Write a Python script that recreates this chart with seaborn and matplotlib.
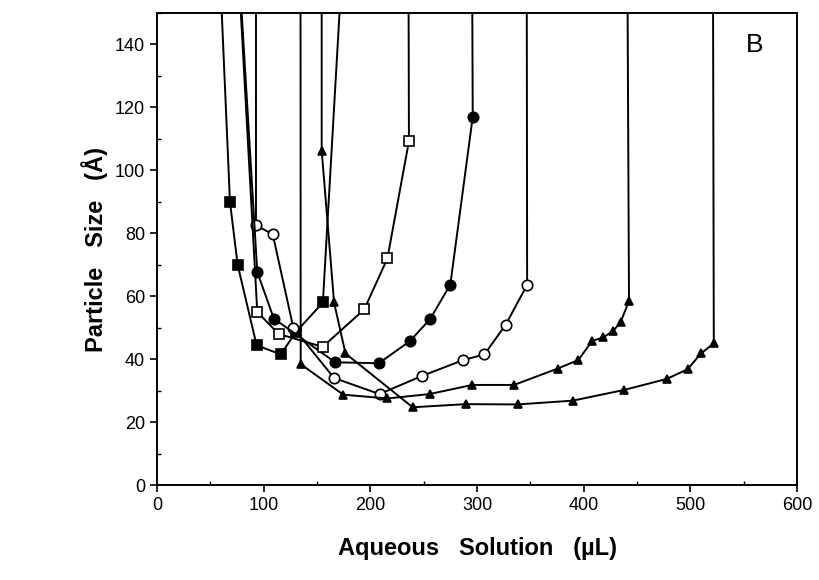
import matplotlib
matplotlib.use("Agg")
import matplotlib.pyplot as plt
import seaborn as sns
import pandas as pd
from matplotlib.ticker import MultipleLocator

sns.set_style("ticks")
plt.rcParams['font.family'] = ['Liberation Sans', 'DejaVu Sans']
plt.rcParams.update({'text.color': 'black', 'axes.labelcolor': 'black',
                     'xtick.color': 'black', 'ytick.color': 'black',
                     'axes.edgecolor': 'black'})

# Data (y = 200 stands for off-scale, phase-boundary values above 150)
sq_filled_x = [54.3, 68.4, 75.6, 93.4, 116.0, 130.0, 155.5, 179.6]
sq_filled_y = [200, 90.0, 70.0, 44.4, 41.5, 48.5, 58.0, 200]

circ_open_x = [92.8, 92.8, 108.5, 127.8, 166.0, 208.6, 248.0, 287.0, 307.0, 327.0, 347.0, 346.5]
circ_open_y = [200, 82.5, 79.7, 50.0, 34.0, 28.9, 34.6, 39.7, 41.5, 51.0, 63.6, 200]

circ_filled_x = [70.5, 94.0, 109.5, 167.0, 208.0, 237.0, 256.0, 275.0, 296.0, 295.0]
circ_filled_y = [200, 67.7, 52.9, 39.0, 38.7, 45.7, 52.7, 63.7, 117.0, 200]

sq_open_x = [70.5, 94.0, 114.0, 155.3, 194.3, 216.0, 236.2, 235.5]
sq_open_y = [200, 55.0, 48.0, 43.9, 55.8, 72.0, 109.3, 200]

tri1_x = [134.5, 134.7, 174.7, 216.0, 255.5, 295.6, 334.7, 375.6, 395.0, 408.0, 418.4, 427.8, 434.7, 442.5, 440.5]
tri1_y = [200, 38.4, 28.7, 27.5, 28.9, 31.8, 31.8, 37.0, 39.7, 45.8, 46.9, 49.0, 51.8, 58.5, 200]

tri2_x = [154.4, 154.4, 166.0, 176.7, 239.7, 289.4, 338.0, 389.6, 437.8, 477.8, 497.5, 510.0, 522.0, 521.0]
tri2_y = [200, 106.3, 58.0, 41.8, 24.7, 25.7, 25.6, 26.8, 30.2, 33.7, 36.8, 41.8, 45.0, 200]

x_ticks = [0, 100, 200, 300, 400, 500, 600]
y_ticks = [0, 20, 40, 60, 80, 100, 120, 140]

series = [
    (sq_filled_x, sq_filled_y, dict(marker='s', markersize=7, markerfacecolor='black')),
    (circ_open_x, circ_open_y, dict(marker='o', markersize=7.5, markerfacecolor='white')),
    (circ_filled_x, circ_filled_y, dict(marker='o', markersize=7.5, markerfacecolor='black')),
    (sq_open_x, sq_open_y, dict(marker='s', markersize=7, markerfacecolor='white')),
    (tri1_x, tri1_y, dict(marker='^', markersize=5.5, markerfacecolor='black')),
    (tri2_x, tri2_y, dict(marker='^', markersize=5.5, markerfacecolor='black')),
]

fig = plt.figure(figsize=(8.19, 5.8), dpi=100)
ax = fig.add_axes([157/819, 1-485/580, (797-157)/819, (485-13)/580])

for xs, ys, kw in series:
    df = pd.DataFrame({'x': xs, 'y': ys})
    sns.lineplot(data=df, x='x', y='y', sort=False, estimator=None, ax=ax,
                 color='black', linewidth=1.4, markeredgecolor='black',
                 markeredgewidth=1.2, **kw)

ax.set_xlim(0, 600)
ax.set_ylim(0, 150)
ax.set_xticks(x_ticks)
ax.set_yticks(y_ticks)
ax.xaxis.set_minor_locator(MultipleLocator(50))
ax.yaxis.set_minor_locator(MultipleLocator(10))
ax.tick_params(axis='both', which='major', direction='out', length=5, width=1.2,
               labelsize=13, color='black', labelcolor='black')
ax.tick_params(axis='both', which='minor', direction='in', length=3, width=1.0, color='black')
for s in ax.spines.values():
    s.set_linewidth(1.4)
    s.set_color('black')

ax.set_xlabel('Aqueous   Solution   (\u00b5L)', fontsize=17, fontweight='bold', labelpad=17,
              color='black')
ax.set_ylabel('Particle   Size   (\u00c5)', fontsize=17, fontweight='bold', labelpad=5,
              color='black')
ax.text(0.934, 0.932, 'B', transform=ax.transAxes, fontsize=19, ha='center', va='center',
        color='black')

fig.savefig('out.png', dpi=100)
